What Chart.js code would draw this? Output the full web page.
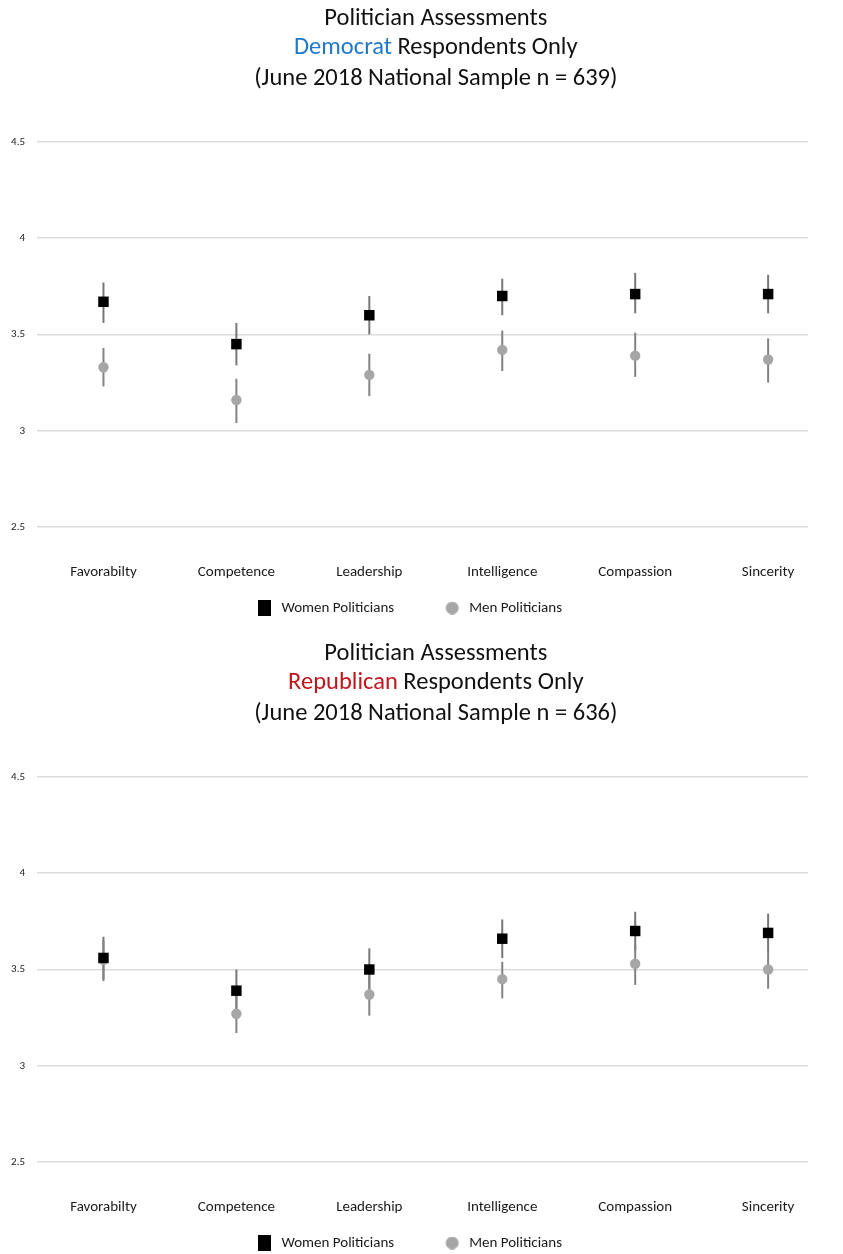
<!DOCTYPE html>
<html>
<head>
<meta charset="utf-8">
<title>Politician Assessments</title>
<script src="https://cdn.jsdelivr.net/npm/chart.js@4.4.1/dist/chart.umd.min.js"></script>
<style>
  html, body { margin: 0; padding: 0; background: #ffffff; }
  body { width: 843px; height: 1254px; overflow: hidden; }
  .panel { position: relative; width: 843px; height: 635px; }
</style>
</head>
<body>
<div class="panel"><canvas id="demChart"></canvas></div>
<div class="panel"><canvas id="repChart"></canvas></div>
<script>
// ---- data ----
const categories = ['Favorabilty', 'Competence', 'Leadership', 'Intelligence', 'Compassion', 'Sincerity'];
const yTickValues = [2.5, 3, 3.5, 4, 4.5];

// Democrat respondents (n = 639)
const demWomen     = [3.67, 3.45, 3.60, 3.70, 3.71, 3.71];
const demWomenLow  = [3.56, 3.34, 3.50, 3.60, 3.61, 3.61];
const demWomenHigh = [3.77, 3.56, 3.70, 3.79, 3.82, 3.81];
const demMen       = [3.33, 3.16, 3.29, 3.42, 3.39, 3.37];
const demMenLow    = [3.23, 3.04, 3.18, 3.31, 3.28, 3.25];
const demMenHigh   = [3.43, 3.27, 3.40, 3.52, 3.51, 3.48];

// Republican respondents (n = 636)
const repWomen     = [3.56, 3.39, 3.50, 3.66, 3.70, 3.69];
const repWomenLow  = [3.45, 3.29, 3.40, 3.56, 3.60, 3.59];
const repWomenHigh = [3.67, 3.50, 3.61, 3.76, 3.80, 3.79];
const repMen       = [3.55, 3.27, 3.37, 3.45, 3.53, 3.50];
const repMenLow    = [3.44, 3.17, 3.26, 3.35, 3.42, 3.40];
const repMenHigh   = [3.65, 3.38, 3.48, 3.54, 3.63, 3.60];

// ---- styling ----
const FONT = 'Carlito, Lato, "Open Sans", sans-serif';
Chart.defaults.font.family = FONT;
Chart.defaults.color = '#222';

// vertical interval lines drawn under the markers
const errorBars = {
  id: 'errorBars',
  beforeDatasetsDraw(chart) {
    const { ctx, scales: { x, y } } = chart;
    ctx.save();
    ctx.lineWidth = 2;
    chart.data.datasets.forEach(ds => {
      ctx.strokeStyle = ds.intervalColor;
      ds.intervalLow.forEach((lo, i) => {
        const px = x.getPixelForValue(i);
        ctx.beginPath();
        ctx.moveTo(px, y.getPixelForValue(lo));
        ctx.lineTo(px, y.getPixelForValue(ds.intervalHigh[i]));
        ctx.stroke();
      });
    });
    ctx.restore();
  }
};

// three-line heading with the party name coloured
const panelTitle = {
  id: 'panelTitle',
  afterDraw(chart, args, opts) {
    const { ctx, scales: { x } } = chart;
    const cx = (x.getPixelForValue(-0.5) + x.getPixelForValue(categories.length - 0.5)) / 2;
    ctx.save();
    ctx.font = `24.5px ${FONT}`;
    ctx.textBaseline = 'middle';
    ctx.fillStyle = '#111';
    ctx.textAlign = 'center';
    ctx.fillText(opts.heading, cx, opts.lineY[0]);

    const partyText = opts.party + ' ';
    const restText = 'Respondents Only';
    const wp = ctx.measureText(partyText).width;
    const wr = ctx.measureText(restText).width;
    const sx = cx - (wp + wr) / 2;
    ctx.textAlign = 'left';
    ctx.fillStyle = opts.partyColor;
    ctx.fillText(partyText, sx, opts.lineY[1]);
    ctx.fillStyle = '#111';
    ctx.fillText(restText, sx + wp, opts.lineY[1]);

    ctx.textAlign = 'center';
    ctx.fillText(opts.sample, cx, opts.lineY[2]);
    ctx.restore();
  }
};

// legend swatches: marker sits at the right of a wider transparent cell,
// which spaces the two legend entries apart
const LEGEND_CELL = 48;
function legendMarker(shape, color, w, h) {
  const c = document.createElement('canvas');
  c.width = LEGEND_CELL; c.height = h;
  const g = c.getContext('2d');
  g.fillStyle = color;
  const left = LEGEND_CELL - 16;
  if (shape === 'rect') {
    g.fillRect(left, 0, w, h);
  } else {
    g.beginPath();
    g.arc(left + w / 2, h / 2, w / 2, 0, Math.PI * 2);
    g.fill();
  }
  return c;
}
const womenLegendMarker = legendMarker('rect', '#000000', 13, 16);
const menLegendMarker = legendMarker('circle', '#a6a6a6', 13, 13);

function toPoints(values) {
  return values.map((v, i) => ({ x: i, y: v }));
}

function buildChart(canvasId, party, partyColor, sample, women, womenLow, womenHigh, men, menLow, menHigh) {
  return new Chart(document.getElementById(canvasId), {
    type: 'scatter',
    data: {
      datasets: [
        {
          label: 'Women Politicians',
          data: toPoints(women),
          pointStyle: 'rect',
          pointRadius: 7.4,
          pointHoverRadius: 7.4,
          backgroundColor: '#000000',
          borderColor: '#000000',
          borderWidth: 0,
          intervalLow: womenLow,
          intervalHigh: womenHigh,
          intervalColor: '#777777'
        },
        {
          label: 'Men Politicians',
          data: toPoints(men),
          pointStyle: 'circle',
          pointRadius: 5.2,
          pointHoverRadius: 5.2,
          backgroundColor: '#a6a6a6',
          borderColor: '#a6a6a6',
          borderWidth: 0,
          intervalLow: menLow,
          intervalHigh: menHigh,
          intervalColor: '#828282'
        }
      ]
    },
    options: {
      responsive: true,
      maintainAspectRatio: false,
      animation: false,
      layout: { padding: { top: 142, right: 35, bottom: 9.5, left: -20 } },
      scales: {
        x: {
          type: 'linear',
          min: -0.5,
          max: 5.3,
          grid: { display: false, drawTicks: false },
          border: { display: false },
          afterBuildTicks(axis) {
            axis.ticks = categories.map((_, i) => ({ value: i }));
          },
          afterFit(axis) { axis.height = 54; },
          ticks: {
            autoSkip: false,
            maxRotation: 0,
            padding: 36,
            color: '#1a1a1a',
            font: { size: 15 },
            callback: (v) => categories[v]
          }
        },
        y: {
          min: 2.5,
          max: 4.5,
          grid: { color: '#dcdcdc', lineWidth: 1.6, drawTicks: false },
          border: { display: false },
          afterBuildTicks(axis) {
            axis.ticks = yTickValues.map(v => ({ value: v }));
          },
          afterFit(axis) { axis.width = 57; },
          ticks: {
            padding: 12,
            color: '#222',
            font: { size: 11 },
            callback: (v) => String(v)
          }
        }
      },
      plugins: {
        title: { display: false },
        tooltip: { enabled: false },
        legend: {
          position: 'bottom',
          labels: {
            usePointStyle: true,
            pointStyleWidth: LEGEND_CELL,
            padding: 19.5,
            color: '#1a1a1a',
            font: { size: 15 },
            generateLabels(chart) {
              const items = Chart.defaults.plugins.legend.labels.generateLabels(chart);
              items.forEach((it, i) => { it.pointStyle = i === 0 ? womenLegendMarker : menLegendMarker; });
              return items;
            }
          }
        },
        panelTitle: {
          heading: 'Politician Assessments',
          party: party,
          partyColor: partyColor,
          sample: sample,
          lineY: [19, 48, 79]
        }
      }
    },
    plugins: [errorBars, panelTitle]
  });
}

buildChart('demChart', 'Democrat', '#1f78c8', '(June 2018 National Sample n = 639)',
  demWomen, demWomenLow, demWomenHigh, demMen, demMenLow, demMenHigh);
buildChart('repChart', 'Republican', '#c0161c', '(June 2018 National Sample n = 636)',
  repWomen, repWomenLow, repWomenHigh, repMen, repMenLow, repMenHigh);
</script>
</body>
</html>
